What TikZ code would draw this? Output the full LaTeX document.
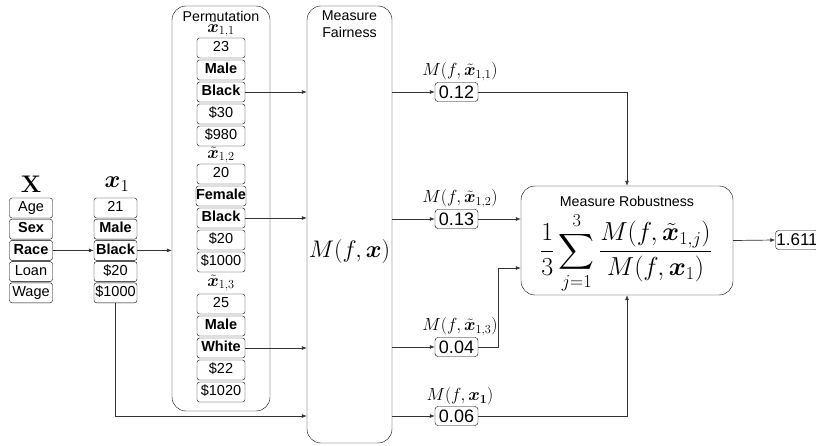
\RequirePackage{fix-cm}
\documentclass[tikz,border=0pt]{standalone}
\usepackage{amsmath}
\usepackage{bm}
\usepackage[no-math]{fontspec}
\setmainfont{Liberation Sans}
\usetikzlibrary{arrows.meta}
\begin{document}
\begin{tikzpicture}[x=1pt,y=-1pt,
  cell/.style={draw, rounded corners=2.5pt, minimum width=43pt, minimum height=20pt, inner sep=0pt, font=\fontsize{14.5}{15}\selectfont, text height=10.4pt, text depth=2.8pt},
  pcell/.style={cell, minimum width=48pt},
  val/.style={draw, rounded corners=3pt, minimum width=43pt, minimum height=19pt, inner sep=0pt, font=\fontsize{18}{18}\selectfont},
  cont/.style={draw, rounded corners=14pt, inner sep=0pt},
  ttl/.style={inner sep=0pt, font=\fontsize{14.2}{16.5}\selectfont, align=center},
  mlab/.style={inner sep=0pt, font=\fontsize{17.5}{17.5}\selectfont},
  arr/.style={-{Latex[length=5pt,width=4pt]}, line width=0.7pt, draw=black!80},
  ln/.style={line width=0.7pt}
]
\useasboundingbox (0,0) rectangle (816,446);

% input table X
\node[inner sep=0pt, font=\fontsize{24}{24}\selectfont] (Xl) at (31,184) {$\mathbf{X}$};
\node[cell] (a1) at (31,208) {Age};
\node[cell] (a2) at (31,229.2) {\textbf{Sex}};
\node[cell] (a3) at (31,250.4) {\textbf{Race}};
\node[cell] (a4) at (31,271.6) {Loan};
\node[cell] (a5) at (31,292.8) {Wage};

% x1
\node[inner sep=0pt, font=\fontsize{24}{24}\selectfont] (x1l) at (117,184) {$\bm{x}_1$};
\node[cell] (b1) at (115.5,208) {21};
\node[cell] (b2) at (115.5,229.2) {\textbf{Male}};
\node[cell] (b3) at (115.5,250.4) {\textbf{Black}};
\node[cell] (b4) at (115.5,271.6) {\$20};
\node[cell] (b5) at (115.5,292.8) {\$1000};

% permutation container
\node[cont, minimum width=98pt, minimum height=405pt] (perm) at (221,208.5) {};
\node[ttl] (permT) at (221,16) {Permutation};

\node[mlab] (l1) at (221,29) {$\tilde{\bm{x}}_{1,1}$};
\node[pcell] (p11) at (221,48) {23};
\node[pcell] (p12) at (221,70) {\textbf{Male}};
\node[pcell] (p13) at (221,92) {\textbf{Black}};
\node[pcell] (p14) at (221,114) {\$30};
\node[pcell] (p15) at (221,136) {\$980};

\node[mlab] (l2) at (221,155) {$\tilde{\bm{x}}_{1,2}$};
\node[pcell] (p21) at (221,174) {20};
\node[pcell] (p22) at (221,196) {\textbf{Female}};
\node[pcell] (p23) at (221,218) {\textbf{Black}};
\node[pcell] (p24) at (221,240) {\$20};
\node[pcell] (p25) at (221,262) {\$1000};

\node[mlab] (l3) at (221,283) {$\tilde{\bm{x}}_{1,3}$};
\node[pcell] (p31) at (221,304) {25};
\node[pcell] (p32) at (221,326) {\textbf{Male}};
\node[pcell] (p33) at (221,348) {\textbf{White}};
\node[pcell] (p34) at (221,370) {\$22};
\node[pcell] (p35) at (221,392) {\$1020};

% measure fairness
\node[cont, minimum width=85pt, minimum height=437pt] (fair) at (349.5,224.5) {};
\node[ttl] (fairT) at (349.5,24) {Measure\\Fairness};
\node[inner sep=0pt, font=\fontsize{24}{24}\selectfont] (mfx) at (349.5,252) {$M(f,\bm{x})$};

% values
\node[val] (v1) at (456.5,92) {0.12};
\node[val] (v2) at (456.5,219) {0.13};
\node[val] (v3) at (456.5,347) {0.04};
\node[val] (v4) at (456.5,416) {0.06};
\node[mlab, anchor=south] (m1) at (460,81) {$M(f,\tilde{\bm{x}}_{1,1})$};
\node[mlab, anchor=south] (m2) at (460,208) {$M(f,\tilde{\bm{x}}_{1,2})$};
\node[mlab, anchor=south] (m3) at (460,336) {$M(f,\tilde{\bm{x}}_{1,3})$};
\node[mlab, anchor=south] (m4) at (460,405) {$M(f,\bm{x_1})$};

% measure robustness
\node[cont, minimum width=212pt, minimum height=109pt] (rob) at (627,240.5) {};
\node[ttl] (robT) at (627,201) {Measure Robustness};
\node[inner sep=0pt, font=\fontsize{26}{30}\selectfont] (form) at (626,253) {$\displaystyle\frac{1}{3}\sum_{j=1}^{3}\frac{M(f,\tilde{\bm{x}}_{1,j})}{M(f,\bm{x}_1)}$};

\node[val, font=\fontsize{17}{17}\selectfont] (out) at (797,240) {1.611};

% connectors
\draw[arr] (a3.east) -- (b3.west);
\draw[arr] (b3.east) -- (b3.east -| perm.west);
\draw[arr] (p13.east) -- (p13.east -| fair.west);
\draw[arr] (p23.east) -- (p23.east -| fair.west);
\draw[arr] (p33.east) -- (p33.east -| fair.west);
\draw[arr] (b5.south) |- (v4 -| fair.west);
\draw[arr] (v1 -| fair.east) -- (v1.west);
\draw[arr] (v2 -| fair.east) -- (v2.west);
\draw[arr] (v3 -| fair.east) -- (v3.west);
\draw[arr] (v4 -| fair.east) -- (v4.west);
\draw[arr] (v1.east) -| (rob.north);
\draw[arr] (v2.east) -- (v2.east -| rob.west);
\coordinate (r3) at ([yshift=-27.5pt]rob.west);
\draw[arr] (v3.east) -- ++(20,0) |- (r3);
\draw[arr] (v4.east) -| (rob.south);
\draw[arr] (rob.east) -- (out.west);
\end{tikzpicture}
\end{document}
